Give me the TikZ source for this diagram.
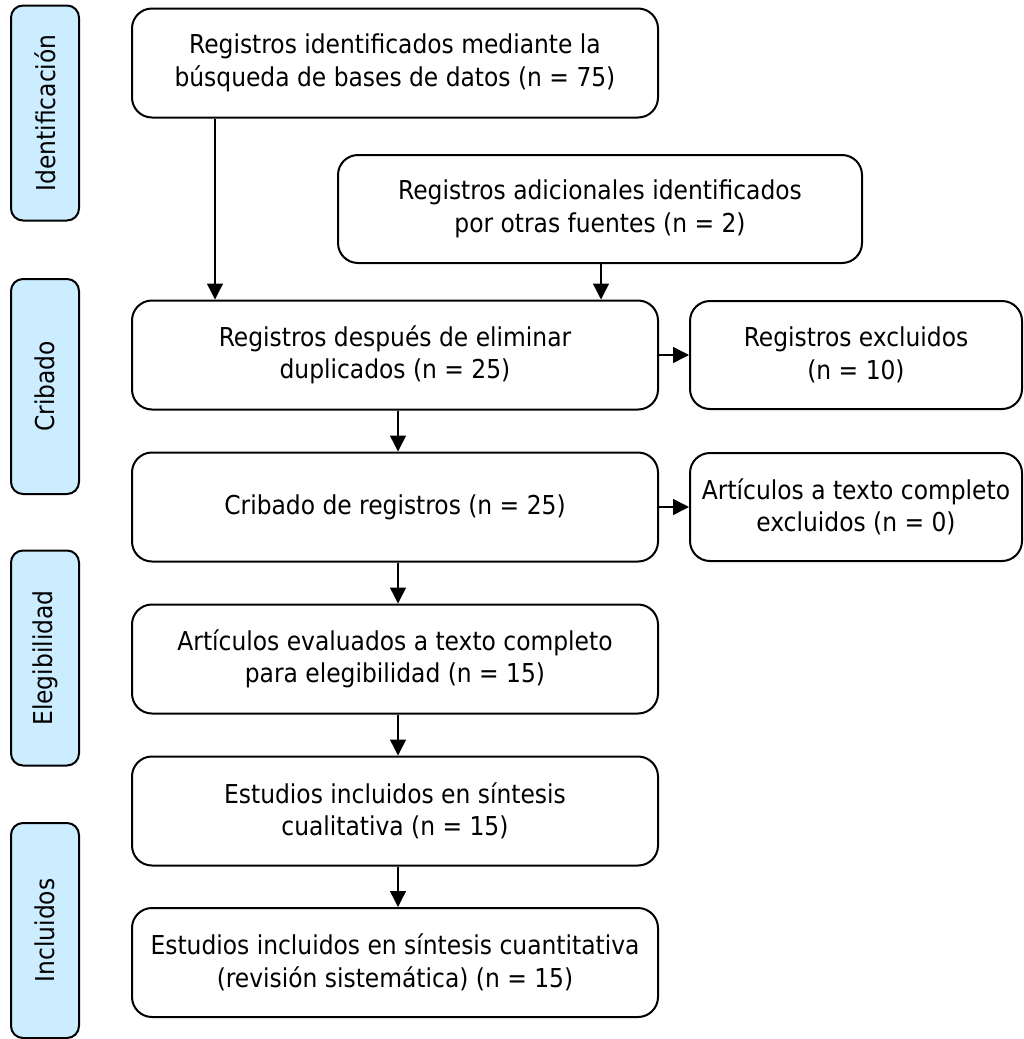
\documentclass[tikz,border=0pt]{standalone}
\usepackage{fontspec}
\setmainfont{DejaVu Sans Condensed}
\usetikzlibrary{arrows.meta}
\definecolor{sidefill}{RGB}{204,236,255}
\tikzset{
  box/.style={draw=black, line width=2pt, rounded corners=20pt, fill=white,
    align=center, inner sep=0pt, font=\fontsize{26}{32.5}\selectfont},
  mainbox/.style={box, minimum width=526pt, minimum height=109pt},
  sidebox/.style={box, minimum width=332pt, minimum height=108pt},
  phase/.style={draw=black, line width=2pt, rounded corners=12pt, fill=sidefill,
    rotate=90, minimum width=215pt, minimum height=68pt, inner sep=0pt,
    font=\fontsize{26}{32}\selectfont},
  arr/.style={line width=1.4pt, -{Triangle[length=16pt,width=16pt]}}
}
\begin{document}
\begin{tikzpicture}[x=1pt,y=-1pt]
\useasboundingbox (0,0) rectangle (1023,1039);
% phase labels
\node[phase] (p1) at (45,113) {Identificación};
\node[phase] (p2) at (45,386.5) {Cribado};
\node[phase] (p3) at (45,658) {Elegibilidad};
\node[phase] (p4) at (45,930.5) {Incluidos};
% main boxes
\node[mainbox] (b1) at (395,63) {Registros identificados mediante la\\búsqueda de bases de datos (n = 75)};
\node[box, minimum width=524pt, minimum height=108pt] (b2) at (600,209) {Registros adicionales identificados\\por otras fuentes (n = 2)};
\node[mainbox] (b3) at (395,355) {Registros después de eliminar\\duplicados (n = 25)};
\node[sidebox] (b4) at (856,355) {Registros excluidos\\(n = 10)};
\node[mainbox] (b5) at (395,507) {Cribado de registros (n = 25)};
\node[sidebox] (b6) at (856,507) {Artículos a texto completo\\excluidos (n = 0)};
\node[mainbox] (b7) at (395,659) {Artículos evaluados a texto completo\\para elegibilidad (n = 15)};
\node[mainbox] (b8) at (395,811) {Estudios incluidos en síntesis\\cualitativa (n = 15)};
\node[mainbox] (b9) at (395,962.5) {Estudios incluidos en síntesis cuantitativa\\(revisión sistemática) (n = 15)};
% connectors
\draw[arr] (b1.south -| 215,0) -- (b3.north -| 215,0);
\draw[arr] (b2.south -| 601,0) -- (b3.north -| 601,0);
\draw[arr] (b3.east) -- (b4.west);
\draw[arr] (b5.east) -- (b6.west);
\draw[arr] (b3.south -| 398,0) -- (b5.north -| 398,0);
\draw[arr] (b5.south -| 398,0) -- (b7.north -| 398,0);
\draw[arr] (b7.south -| 398,0) -- (b8.north -| 398,0);
\draw[arr] (b8.south -| 398,0) -- (b9.north -| 398,0);
\end{tikzpicture}
\end{document}
